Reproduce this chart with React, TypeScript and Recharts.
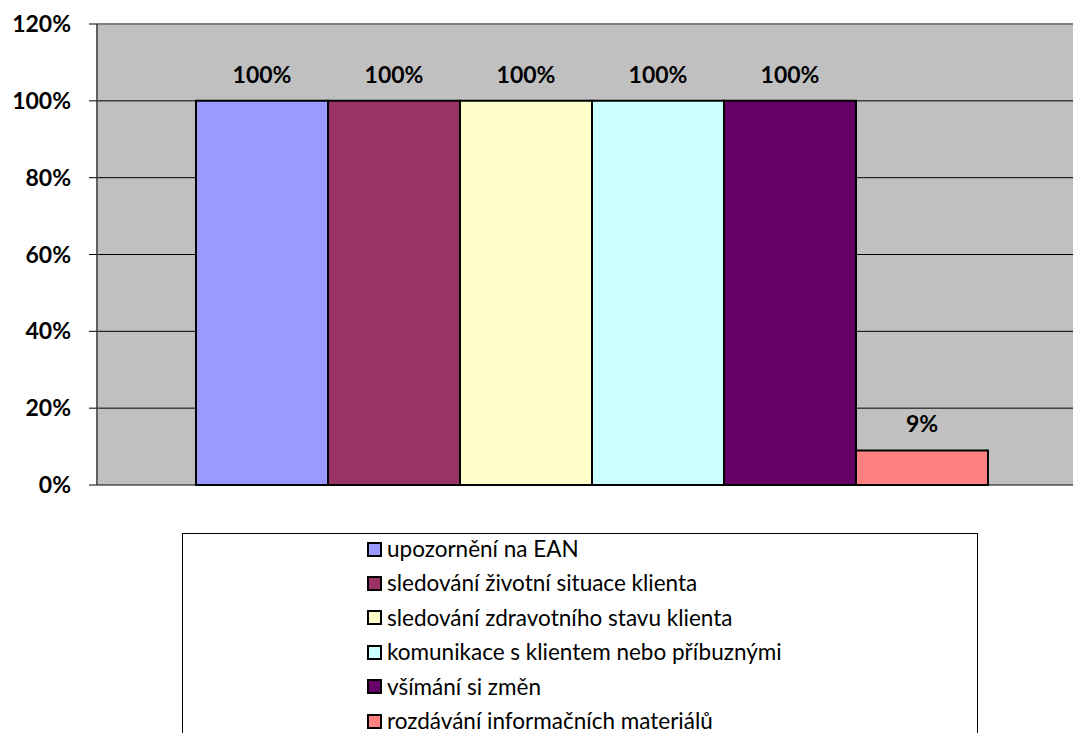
import React from "react";
import { BarChart, Bar, XAxis, YAxis, CartesianGrid, LabelList, ReferenceLine } from "recharts";

const seriesNames = [
  "upozornění na EAN",
  "sledování životní situace klienta",
  "sledování zdravotního stavu klienta",
  "komunikace s klientem nebo příbuznými",
  "všímání si změn",
  "rozdávání informačních materiálů",
];
const seriesValues = [1, 1, 1, 1, 1, 0.09];
const seriesColors = ["#9999FF", "#993366", "#FFFFCC", "#CCFFFF", "#660066", "#FF8080"];
const yTicks = [0, 0.2, 0.4, 0.6, 0.8, 1, 1.2];

const keys = seriesNames.map((_, i) => `s${i}`);
const row: Record<string, number | string> = { name: "" };
keys.forEach((k, i) => (row[k] = seriesValues[i]));
const data = [row];

const pct = (v: any) => `${Math.round(Number(v) * 100)}%`;
const font = "Lato, 'Open Sans', sans-serif";

export default function App() {
  return (
    <div style={{ position: "fixed", left: 0, top: 0, width: 1073, height: 733, overflow: "hidden", background: "#fff", fontFamily: font }}>
      <BarChart
        width={1100}
        height={733}
        data={data}
        margin={{ top: 24, right: 13, bottom: 248, left: 0 }}
        barCategoryGap="10%"
        barGap={0}
      >
        <CartesianGrid vertical={false} stroke="#000" fill="#C0C0C0" fillOpacity={1} />
        <XAxis dataKey="name" height={0} tick={false} tickLine={false} axisLine={{ stroke: "#404040", strokeWidth: 2 }} />
        <YAxis
          width={97}
          domain={[0, 1.2]}
          ticks={yTicks}
          tickFormatter={pct}
          tickSize={8}
          tickMargin={18}
          tickLine={{ stroke: "#000" }}
          axisLine={{ stroke: "#606060", strokeWidth: 2 }}
          tick={{ fill: "#000", fontSize: 23, fontWeight: 700, fontFamily: font }}
          interval={0}
        />
        <ReferenceLine y={1.2} stroke="#808080" strokeWidth={2} />
        {keys.map((k, i) => (
          <Bar key={k} dataKey={k} name={seriesNames[i]} fill={seriesColors[i]} stroke="#000" strokeWidth={2} isAnimationActive={false}>
            <LabelList
              dataKey={k}
              position="top"
              offset={18}
              formatter={pct}
              style={{ fill: "#000", fontSize: 23, fontWeight: 700, fontFamily: font }}
            />
          </Bar>
        ))}
      </BarChart>
      <div style={{ position: "absolute", left: 182, top: 533, width: 796, height: 240, border: "1px solid #000", boxSizing: "border-box" }}>
        {seriesNames.map((n, i) => (
          <div key={n} style={{ position: "absolute", left: 184, top: 15 + i * 34.4 - 14, height: 28, display: "flex", alignItems: "center", whiteSpace: "nowrap" }}>
            <div style={{ width: 11, height: 11, background: seriesColors[i], border: "2px solid #000", marginRight: 5 }} />
            <span style={{ fontSize: 22.5, color: "#000", lineHeight: "28px" }}>{n}</span>
          </div>
        ))}
      </div>
    </div>
  );
}
